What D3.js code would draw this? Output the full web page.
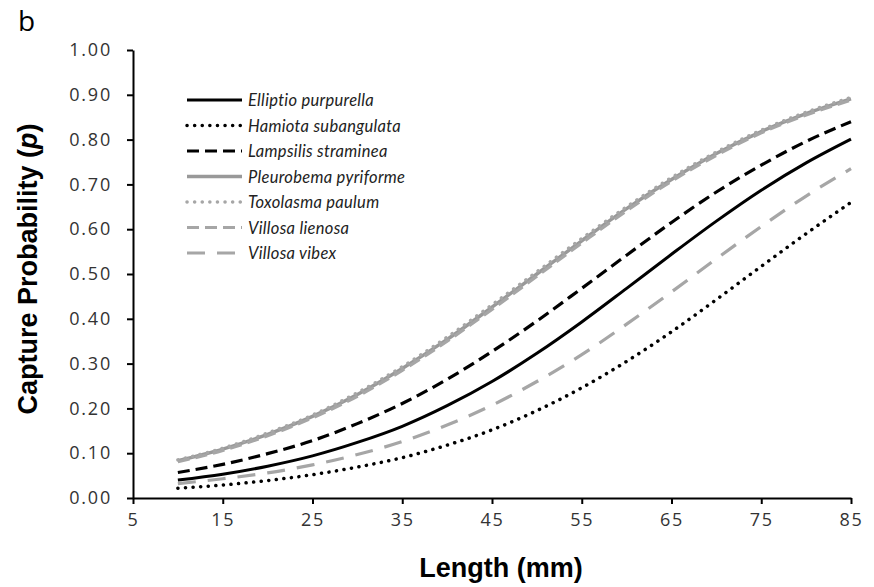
<!DOCTYPE html>
<html>
<head>
<meta charset="utf-8">
<script src="https://cdn.jsdelivr.net/npm/d3@7"></script>
<style>
  body { margin: 0; background: #fff; }
  svg text { font-family: Lato, "Open Sans", sans-serif; }
  .axis path, .axis line { stroke: #000; stroke-width: 2; }
  .axis text { font-family: "Open Sans", sans-serif; font-size: 18px; letter-spacing: 1.8px; fill: #333; }
</style>
</head>
<body>
<svg id="chart" width="874" height="587"></svg>
<script>
// Length values (mm) where curves were read
var lengths = [10, 15, 20, 25, 30, 35, 40, 45, 50, 55, 60, 65, 70, 75, 80, 85];

// Capture probability per species
var elliptio   = [0.040, 0.053, 0.071, 0.094, 0.124, 0.160, 0.206, 0.260, 0.323, 0.393, 0.468, 0.544, 0.618, 0.687, 0.748, 0.801];
var hamiota    = [0.022, 0.029, 0.039, 0.052, 0.069, 0.090, 0.118, 0.152, 0.195, 0.246, 0.305, 0.371, 0.443, 0.517, 0.590, 0.660];
var lampsilis  = [0.057, 0.075, 0.099, 0.128, 0.166, 0.211, 0.265, 0.327, 0.395, 0.468, 0.542, 0.615, 0.683, 0.743, 0.796, 0.840];
var pleurobema = [0.083, 0.109, 0.142, 0.182, 0.231, 0.289, 0.354, 0.426, 0.500, 0.574, 0.646, 0.711, 0.769, 0.818, 0.858, 0.891];
var toxolasma  = [0.085, 0.111, 0.145, 0.185, 0.235, 0.293, 0.359, 0.431, 0.505, 0.579, 0.650, 0.715, 0.772, 0.821, 0.861, 0.894];
var lienosa    = [0.081, 0.106, 0.139, 0.179, 0.227, 0.285, 0.350, 0.421, 0.495, 0.569, 0.641, 0.707, 0.765, 0.815, 0.855, 0.888];
var vibex      = [0.032, 0.043, 0.056, 0.074, 0.097, 0.126, 0.163, 0.207, 0.260, 0.320, 0.388, 0.460, 0.534, 0.606, 0.674, 0.735];

// Legend names in order
var speciesNames = ["Elliptio purpurella", "Hamiota subangulata", "Lampsilis straminea",
                    "Pleurobema pyriforme", "Toxolasma paulum", "Villosa lienosa", "Villosa vibex"];

// Axis ticks
var xTicks = [5, 15, 25, 35, 45, 55, 65, 75, 85];
var yTicks = [0, 0.1, 0.2, 0.3, 0.4, 0.5, 0.6, 0.7, 0.8, 0.9, 1.0];

// Line styles for each species
var styles = [
  {color: "#000",    width: 3,   dash: null,    cap: "butt"},
  {color: "#000",    width: 3.5, dash: "0.1 7.5", cap: "round"},
  {color: "#000",    width: 3.2, dash: "12 6",  cap: "butt"},
  {color: "#999",    width: 3.5, dash: null,    cap: "butt"},
  {color: "#a6a6a6", width: 3.5, dash: "0.1 7.5", cap: "round"},
  {color: "#a6a6a6", width: 3.2, dash: "12 6",  cap: "butt"},
  {color: "#a6a6a6", width: 3.2, dash: "18 12", cap: "butt"}
];

var seriesValues = [elliptio, hamiota, lampsilis, pleurobema, toxolasma, lienosa, vibex];

// Set dimensions
var margin = {top: 50, right: 23, bottom: 89, left: 133},
    width = 874 - margin.left - margin.right,
    height = 587 - margin.top - margin.bottom;

var svg = d3.select("#chart")
  .append("g")
    .attr("transform", "translate(" + margin.left + "," + margin.top + ")");

// Scales
var x = d3.scaleLinear().domain([5, 85]).range([0, width]);
var y = d3.scaleLinear().domain([0, 1]).range([height, 0]);

// Axes
svg.append("g")
    .attr("class", "x axis")
    .attr("transform", "translate(0," + height + ")")
    .call(d3.axisBottom(x).tickValues(xTicks).tickSize(6).tickPadding(9).tickSizeOuter(0));

svg.append("g")
    .attr("class", "y axis")
    .call(d3.axisLeft(y).tickValues(yTicks).tickFormat(d3.format(".2f")).tickSize(6).tickPadding(15).tickSizeOuter(0));

// Lines
var line = d3.line()
    .x(function(d) { return x(d[0]); })
    .y(function(d) { return y(d[1]); })
    .curve(d3.curveMonotoneX);

// Draw gray ones first so black overlay
var drawOrder = [3, 5, 4, 6, 0, 1, 2];
drawOrder.forEach(function(i) {
  var s = styles[i];
  var pts = lengths.map(function(l, j) { return [l, seriesValues[i][j]]; });
  svg.append("path")
      .attr("d", line(pts))
      .attr("fill", "none")
      .attr("stroke", s.color)
      .attr("stroke-width", s.width)
      .attr("stroke-linecap", s.cap)
      .attr("stroke-dasharray", s.dash);
});

// Legend
var legend = svg.append("g").attr("transform", "translate(53,50)");
speciesNames.forEach(function(name, i) {
  var s = styles[i];
  var row = legend.append("g").attr("transform", "translate(0," + (i * 25.5) + ")");
  row.append("line")
      .attr("x1", 1).attr("x2", 56)
      .attr("stroke", s.color)
      .attr("stroke-width", s.width)
      .attr("stroke-linecap", s.cap)
      .attr("stroke-dasharray", s.dash);
  row.append("text")
      .attr("x", 62).attr("y", 6)
      .style("font-size", "16.5px")
      .style("letter-spacing", "0.3px")
      .style("font-style", "italic")
      .attr("fill", "#222")
      .text(name);
});

// Axis titles
d3.select("#chart").append("text")
    .attr("x", 501)
    .attr("y", 577)
    .attr("text-anchor", "middle")
    .style("font-family", "'Liberation Sans', Arial, sans-serif")
    .style("font-size", "27px")
    .style("font-weight", "bold")
    .text("Length (mm)");

var yTitle = d3.select("#chart").append("text")
    .attr("transform", "translate(37,269) rotate(-90)")
    .attr("text-anchor", "middle")
    .style("font-family", "'Liberation Sans', Arial, sans-serif")
    .style("font-size", "27px")
    .style("font-weight", "bold");
yTitle.append("tspan").text("Capture Probability (");
yTitle.append("tspan").style("font-style", "italic").text("p");
yTitle.append("tspan").text(")");

// Panel letter
d3.select("#chart").append("text")
    .attr("x", 18).attr("y", 31)
    .style("font-family", "'Open Sans', sans-serif")
    .style("font-size", "28px")
    .text("b");
</script>
</body>
</html>
